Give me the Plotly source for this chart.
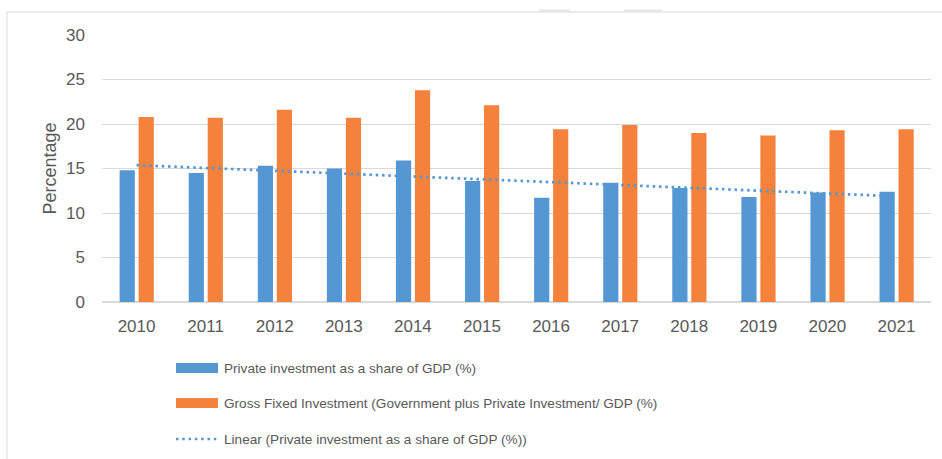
import numpy as np
import plotly.graph_objects as go

# ---- data -------------------------------------------------------------
years = ["2010", "2011", "2012", "2013", "2014", "2015",
         "2016", "2017", "2018", "2019", "2020", "2021"]
private_inv = [14.8, 14.5, 15.3, 15.0, 15.9, 13.6,
               11.7, 13.4, 12.8, 11.8, 12.3, 12.4]
gross_fixed = [20.8, 20.7, 21.6, 20.7, 23.8, 22.1,
               19.4, 19.9, 19.0, 18.7, 19.3, 19.4]
y_ticks = [0, 5, 10, 15, 20, 25, 30]

name_private = "Private investment as a share of GDP (%)"
name_gross = "Gross Fixed Investment (Government plus Private Investment/ GDP (%)"
name_trend = "Linear (Private investment as a share of GDP (%))"

# ---- styling ----------------------------------------------------------
BLUE = "#5597D2"
ORANGE = "#F5823C"
TEXT = "#595959"
GRID = "#D9D9D9"
FONT = "Liberation Sans, Arial, sans-serif"

W, H = 942, 459
L, R, T, B = 102, 11, 35, 157

pos = np.arange(len(years))

# least-squares trend of private investment
slope, intercept = np.polyfit(pos, private_inv, 1)
trend = slope * pos + intercept

fig = go.Figure()
fig.add_trace(go.Bar(x=pos, y=private_inv, name=name_private,
                     marker_color=BLUE, width=0.22, offset=-0.245,
                     marker_line_width=0, showlegend=False))
fig.add_trace(go.Bar(x=pos, y=gross_fixed, name=name_gross,
                     marker_color=ORANGE, width=0.22, offset=0.03,
                     marker_line_width=0, showlegend=False))
fig.add_trace(go.Scatter(x=pos, y=trend, mode="lines", name=name_trend,
                         line=dict(color=BLUE, width=2.7, dash="2.5px,3.8px"),
                         showlegend=False))

pw, ph = W - L - R, H - T - B


def px_x(x):
    return (x - L) / pw


def px_y(y):
    return (H - B - y) / ph


shapes = [
    # outer chart frame (left and top edges visible)
    dict(type="rect", xref="paper", yref="paper",
         x0=px_x(7), x1=px_x(960), y0=px_y(480), y1=px_y(12),
         line=dict(color=GRID, width=1), fillcolor="rgba(0,0,0,0)", layer="below"),
    # small grey tabs on the top edge
    dict(type="rect", xref="paper", yref="paper",
         x0=px_x(539), x1=px_x(570), y0=px_y(12), y1=px_y(9.5),
         line=dict(width=0), fillcolor="#E6E6E6"),
    dict(type="rect", xref="paper", yref="paper",
         x0=px_x(624), x1=px_x(662), y0=px_y(12), y1=px_y(9.5),
         line=dict(width=0), fillcolor="#E6E6E6"),
]

annotations = []
legend_rows = [(name_private, "bar", BLUE, 368),
               (name_gross, "bar", ORANGE, 403),
               (name_trend, "line", BLUE, 439)]
for label, kind, color, cy in legend_rows:
    if kind == "bar":
        shapes.append(dict(type="rect", xref="paper", yref="paper",
                           x0=px_x(176), x1=px_x(218),
                           y0=px_y(cy + 5), y1=px_y(cy - 5),
                           line=dict(width=0), fillcolor=color))
    else:
        shapes.append(dict(type="line", xref="paper", yref="paper",
                           x0=px_x(176), x1=px_x(217),
                           y0=px_y(cy), y1=px_y(cy),
                           line=dict(color=color, width=2.5, dash="2.5px,3.8px")))
    annotations.append(dict(text=label, xref="paper", yref="paper",
                            x=px_x(222), y=px_y(cy), xanchor="left",
                            yanchor="middle", showarrow=False,
                            font=dict(family=FONT, size=13.6, color=TEXT)))

fig.update_layout(
    width=W, height=H,
    margin=dict(l=L, r=R, t=T, b=B, autoexpand=False),
    paper_bgcolor="white", plot_bgcolor="white",
    barmode="overlay",
    font=dict(family=FONT, color=TEXT),
    shapes=shapes,
    annotations=annotations,
    xaxis=dict(range=[-0.5, len(years) - 0.5], tickvals=pos, ticktext=years,
               showgrid=False, zeroline=False, showline=False, ticks="",
               tickfont=dict(size=17, color=TEXT), ticklabelstandoff=12,
               fixedrange=True),
    yaxis=dict(range=[0, 30], tickvals=y_ticks, showgrid=True,
               gridcolor=GRID, gridwidth=1, zeroline=True, zerolinecolor=GRID,
               zerolinewidth=1.5, showline=False, ticks="",
               tickfont=dict(size=17, color=TEXT), ticklabelstandoff=16,
               title=dict(text="Percentage", standoff=4,
                          font=dict(size=18, color=TEXT)),
               automargin=False, fixedrange=True),
)

fig.write_html("out.html")
